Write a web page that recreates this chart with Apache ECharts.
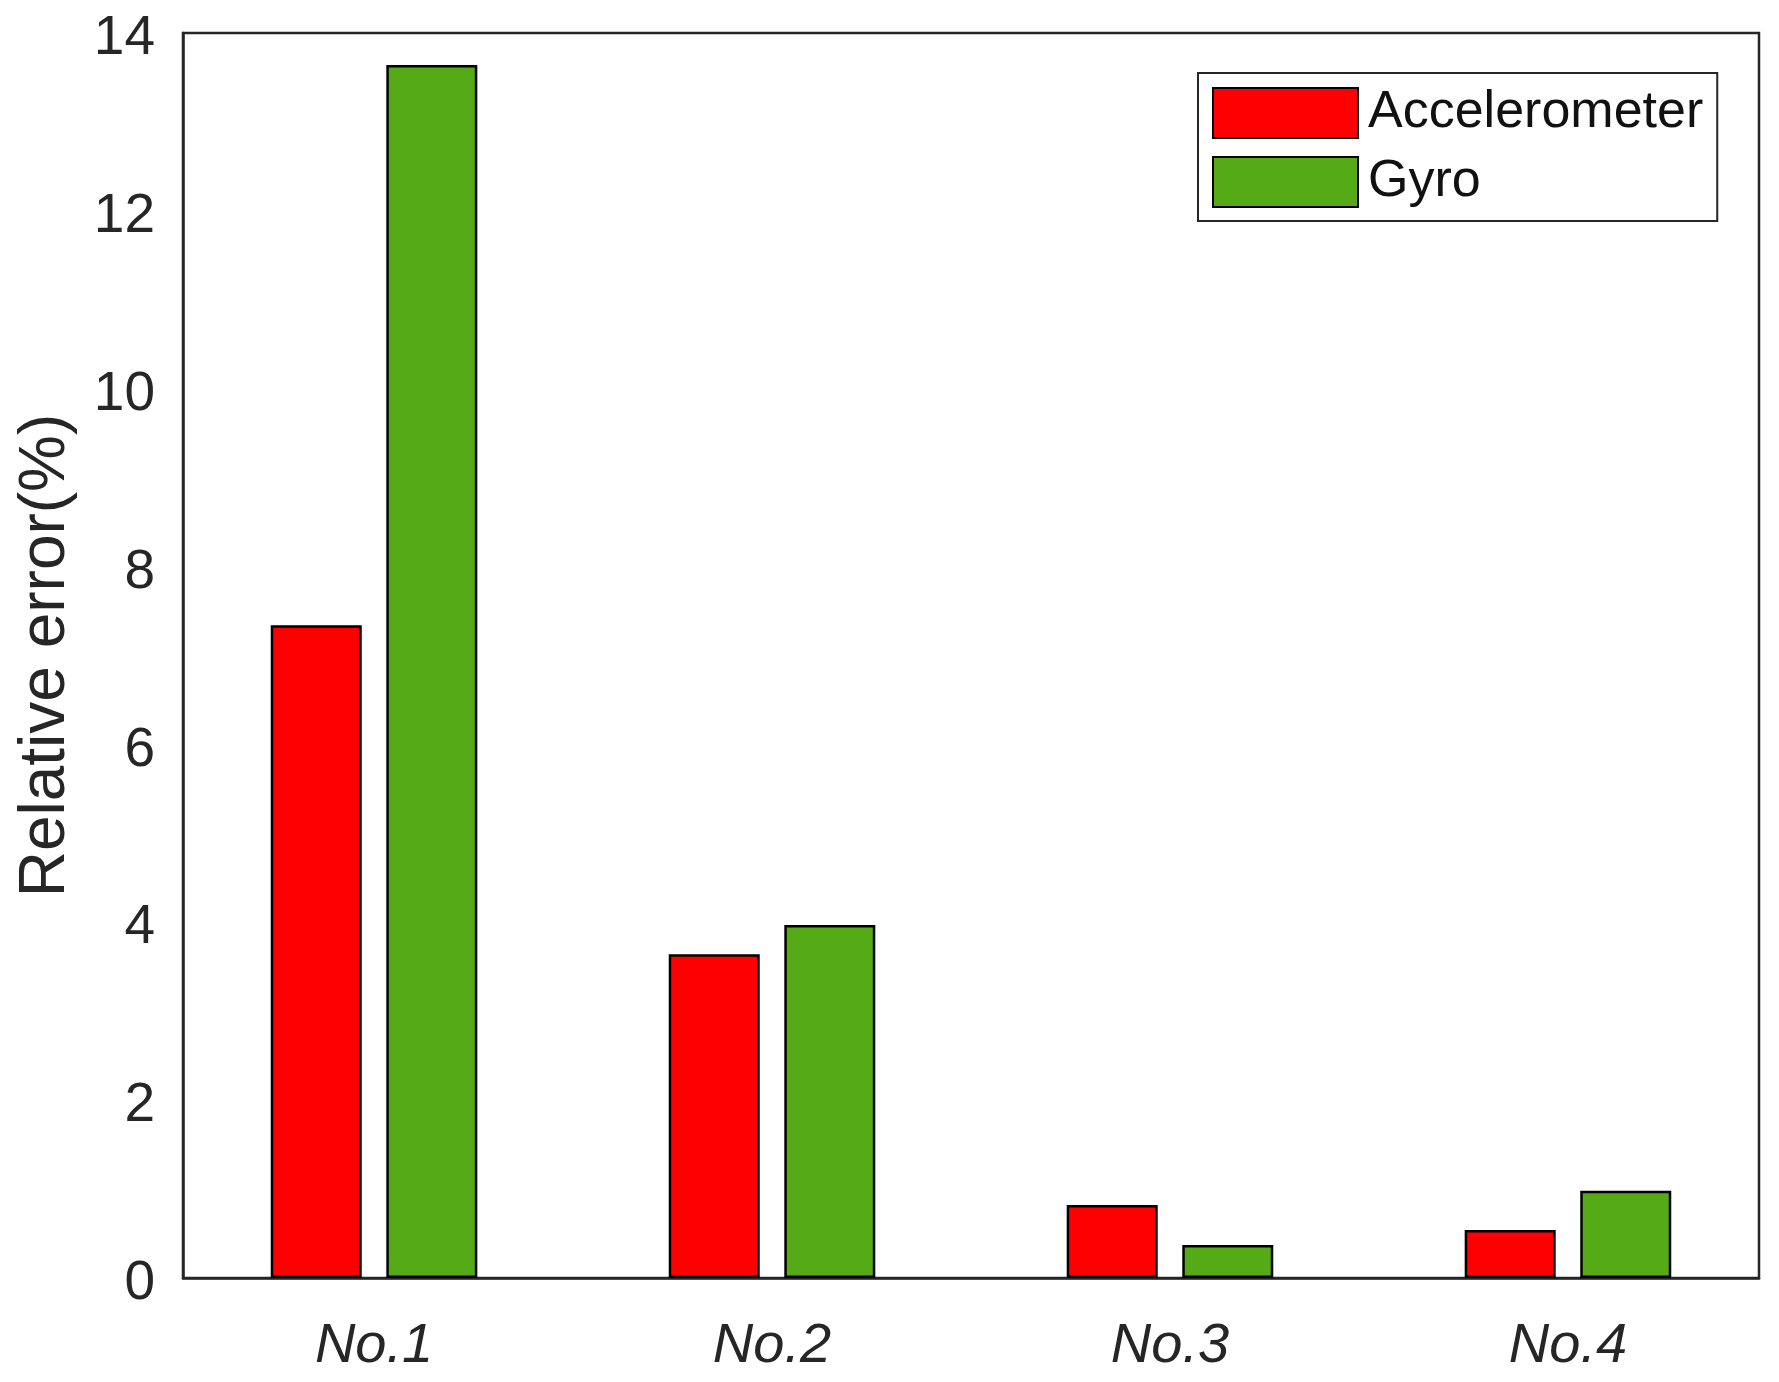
<!DOCTYPE html>
<html>
<head>
<meta charset="utf-8">
<script src="https://cdn.jsdelivr.net/npm/echarts@6/dist/echarts.min.js"></script>
<style>
html,body{margin:0;padding:0;background:#fff;}
#chart{width:1779px;height:1382px;}
</style>
</head>
<body>
<div id="chart"></div>
<script>
var categories = ['No.1', 'No.2', 'No.3', 'No.4'];
var accelerometer = [7.34, 3.64, 0.82, 0.54];
var gyro = [13.64, 3.97, 0.37, 0.98];
var yTicks = [0, 2, 4, 6, 8, 10, 12, 14];

var positions = categories.map(function (c, i) { return i + 1; });
function pairs(vals) { return vals.map(function (v, i) { return [positions[i], v]; }); }

var chart = echarts.init(document.getElementById('chart'));
var font = 'Liberation Sans, Arial, Helvetica, sans-serif';
chart.setOption({
  animation: false,
  backgroundColor: '#ffffff',
  grid: {
    left: 183, right: 20, top: 33, bottom: 104,
    show: true, borderColor: '#262626', borderWidth: 2.5, backgroundColor: 'transparent'
  },
  legend: {
    orient: 'vertical',
    left: 1198, top: 73,
    icon: 'rect',
    itemWidth: 145, itemHeight: 50, itemGap: 17,
    padding: [14, 14, 13, 14],
    borderColor: '#262626', borderWidth: 2,
    textStyle: { fontFamily: font, fontSize: 52, color: '#111', padding: [0, 0, 0, 5] },
    data: ['Accelerometer', 'Gyro']
  },
  xAxis: {
    type: 'value',
    min: 0.52, max: 4.48,
    axisLine: { show: true, onZero: false, lineStyle: { color: '#262626', width: 2.5 } },
    axisTick: { show: false },
    axisLabel: {
      fontFamily: font, fontSize: 56, fontStyle: 'italic', color: '#262626', margin: 40,
      customValues: positions,
      formatter: function (v) { return categories[Math.round(v) - 1] || ''; }
    },
    splitLine: { show: false }
  },
  yAxis: {
    type: 'value',
    min: yTicks[0], max: yTicks[yTicks.length - 1], interval: 2,
    name: 'Relative error(%)',
    nameLocation: 'middle',
    nameGap: 105,
    nameTextStyle: { fontFamily: font, fontSize: 64, color: '#262626' },
    axisLine: { show: true, lineStyle: { color: '#262626', width: 2.5 } },
    axisTick: { show: false },
    axisLabel: {
      color: '#262626', margin: 28,
      formatter: function (v) { return '{t|' + v + '}'; },
      rich: { t: { fontFamily: font, fontSize: 55, color: '#262626', padding: [12, 0, 0, 0] } }
    },
    splitLine: { show: false }
  },
  series: [
    {
      name: 'Accelerometer', type: 'bar', data: pairs(accelerometer),
      barWidth: 91, barGap: '27%',
      itemStyle: { color: '#ff0000', borderColor: '#000', borderWidth: 2.5 }
    },
    {
      name: 'Gyro', type: 'bar', data: pairs(gyro),
      barWidth: 91, barGap: '27%',
      itemStyle: { color: '#55ab17', borderColor: '#000', borderWidth: 2.5 }
    }
  ]
});
</script>
</body>
</html>
